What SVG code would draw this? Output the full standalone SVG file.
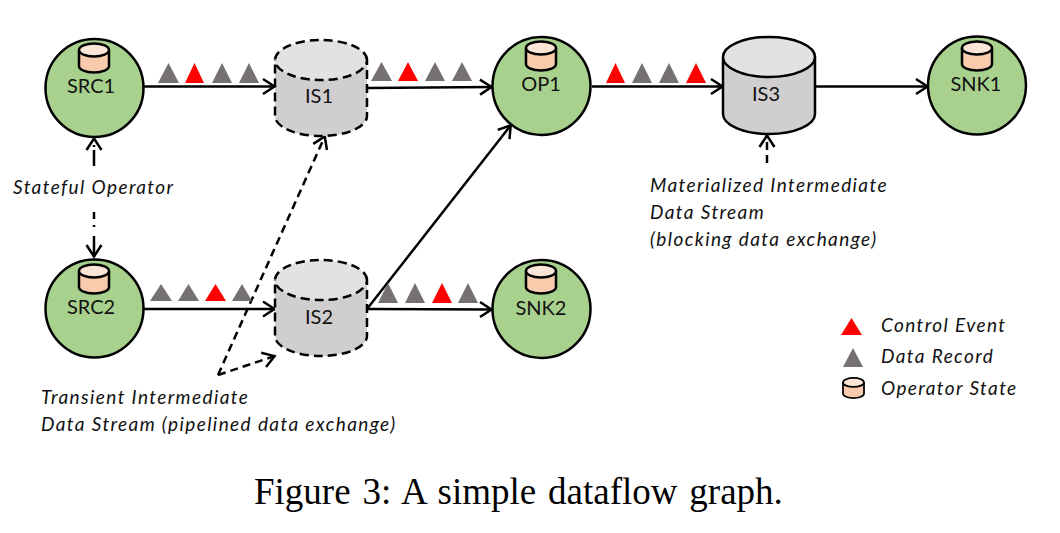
<svg xmlns="http://www.w3.org/2000/svg" width="1060" height="533" viewBox="0 0 1060 533">
<style>
.op{fill:#a9d18e;stroke:#000;stroke-width:2.5}
.st{fill:#f8cbad;stroke:#000;stroke-width:2.5}
.st2{fill:#fbe5d6;stroke:#000;stroke-width:2.5}
.isb{fill:#d0cece;stroke:none}
.ist{fill:#e2e2e2;stroke:none}
.ol{fill:none;stroke:#000;stroke-width:2.5}
.dash{stroke-dasharray:9 5}
.lbl{font-family:Lato,"Liberation Sans",sans-serif;font-size:20px;fill:#111;text-anchor:middle}
.note{font-family:Lato,"Liberation Sans",sans-serif;font-size:19px;font-style:italic;fill:#111;letter-spacing:1.400px}
.cap{font-family:"Liberation Serif",serif;font-size:37px;fill:#000;word-spacing:2.600px}
.c{fill:none;stroke:#000;stroke-width:2.500}
.c.d{stroke-dasharray:8 5}
.r{fill:#f00}.g{fill:#767171}
</style>
<defs>
<marker id="a" markerUnits="userSpaceOnUse" markerWidth="16" markerHeight="20" refX="14" refY="10" orient="auto"><path d="M2 2.500L13.500 10L2 17.500" fill="none" stroke="#000" stroke-width="2.500"/></marker>
<g id="sc"><path class="st" d="M-15 -8V8A15 6.500 0 0 0 15 8V-8"/><ellipse class="st2" cx="0" cy="-8" rx="15" ry="6.500"/></g>
</defs>
<g id="connectors">
<path class="c" marker-end="url(#a)" d="M144 86.500H275"/>
<path class="c" marker-end="url(#a)" d="M367 88L492 87"/>
<path class="c" marker-end="url(#a)" d="M592 86.500H723"/>
<path class="c" marker-end="url(#a)" d="M815 86.500H928"/>
<path class="c" marker-end="url(#a)" d="M144 309H275"/>
<path class="c" marker-end="url(#a)" d="M367 309L492 309.500"/>
<path class="c" marker-end="url(#a)" d="M367 309L511 125"/>
<path class="c" style="stroke-dasharray:16 3 2 20" marker-end="url(#a)" d="M94 166V138"/>
<path class="c" style="stroke-dasharray:7 6 2 9 40" marker-end="url(#a)" d="M94 212V257"/>
<path class="c d" marker-end="url(#a)" d="M218 375L325 136"/>
<path class="c d" marker-end="url(#a)" d="M218 375L275 356"/>
<path class="c d" marker-end="url(#a)" d="M767 163V135"/>
</g>
<g id="markers">
<path class="g" d="M158 83L168.500 63L179 83Z"/><path class="r" d="M185 83L194.500 63L204 83Z"/><path class="g" d="M212 83L222 63L232 83Z"/><path class="g" d="M239 83L249 63L259 83Z"/>
<path class="g" d="M371 81L381.500 62L392 81Z"/><path class="r" d="M398 81L408 62L418 81Z"/><path class="g" d="M425 81L435 62L445 81Z"/><path class="g" d="M452 81L462 62L472 81Z"/>
<path class="r" d="M606 83L615.500 63L625 83Z"/><path class="g" d="M632 83L642 63L652 83Z"/><path class="g" d="M659 83L669 63L679 83Z"/><path class="r" d="M686 83L696 63L706 83Z"/>
<path class="g" d="M150 301L161 284L172 301Z"/><path class="g" d="M178 301L188.500 284L199 301Z"/><path class="r" d="M205 301L215.500 284L226 301Z"/><path class="g" d="M232 301L242 284L252 301Z"/>
<path class="g" d="M378 303L388 283L398 303Z"/><path class="g" d="M405 303L415 283L425 303Z"/><path class="r" d="M432 303L442 283L452 303Z"/><path class="g" d="M458 303L468 283L478 303Z"/>
</g>
<g id="SRC1"><circle class="op" cx="94.500" cy="88" r="49"/><use href="#sc" x="94" y="58"/><text class="lbl" x="91" y="93">SRC1</text></g>
<g id="SRC2"><circle class="op" cx="94.500" cy="308.500" r="49"/><use href="#sc" x="94" y="279"/><text class="lbl" x="91" y="314">SRC2</text></g>
<g id="OP1"><circle class="op" cx="541.500" cy="86" r="49"/><use href="#sc" x="541" y="56"/><text class="lbl" x="541" y="91">OP1</text></g>
<g id="SNK1"><circle class="op" cx="977" cy="85.500" r="49"/><use href="#sc" x="977" y="56"/><text class="lbl" x="976" y="91">SNK1</text></g>
<g id="SNK2"><circle class="op" cx="541.500" cy="309" r="49"/><use href="#sc" x="541" y="279"/><text class="lbl" x="541" y="315">SNK2</text></g>
<g id="IS1"><path class="isb" d="M275 60V116A46 20 0 0 0 367 116V60Z"/><ellipse class="ist" cx="321" cy="60" rx="46" ry="20"/><path class="ol dash" d="M367 60A46 20 0 1 0 275 60V116A46 20 0 0 0 367 116V60A46 20 0 0 1 275 60"/><text class="lbl" x="319" y="103">IS1</text></g>
<g id="IS2"><path class="isb" d="M275 280V336A46 20 0 0 0 367 336V280Z"/><ellipse class="ist" cx="321" cy="280" rx="46" ry="20"/><path class="ol dash" d="M367 280A46 20 0 1 0 275 280V336A46 20 0 0 0 367 336V280A46 20 0 0 1 275 280"/><text class="lbl" x="319" y="324">IS2</text></g>
<g id="IS3"><path class="isb" d="M723 57V114A46 20 0 0 0 815 114V57Z"/><ellipse class="ist" cx="769" cy="57" rx="46" ry="20"/><path class="ol" d="M815 57A46 20 0 1 0 723 57V114A46 20 0 0 0 815 114V57A46 20 0 0 1 723 57"/><text class="lbl" x="766" y="101">IS3</text></g>
<g id="labels">
<text class="note" x="13" y="194">Stateful Operator</text>
<text class="note" x="41" y="404">Transient Intermediate</text>
<text class="note" x="41" y="431">Data Stream (pipelined data exchange)</text>
<text class="note" x="650" y="192">Materialized Intermediate</text>
<text class="note" x="650" y="219">Data Stream</text>
<text class="note" x="650" y="246">(blocking data exchange)</text>
</g>
<g id="legend">
<path class="r" d="M841 335L851.500 318L862 335Z"/><path class="g" d="M843 367L853 348L863 367Z"/>
<use href="#sc" transform="translate(853.500 388) scale(.7)"/>
<text class="note" x="881" y="332">Control Event</text>
<text class="note" x="881" y="363">Data Record</text>
<text class="note" x="881" y="395">Operator State</text>
</g>
<text class="cap" x="254" y="504">Figure 3: A simple dataflow graph.</text>
</svg>
